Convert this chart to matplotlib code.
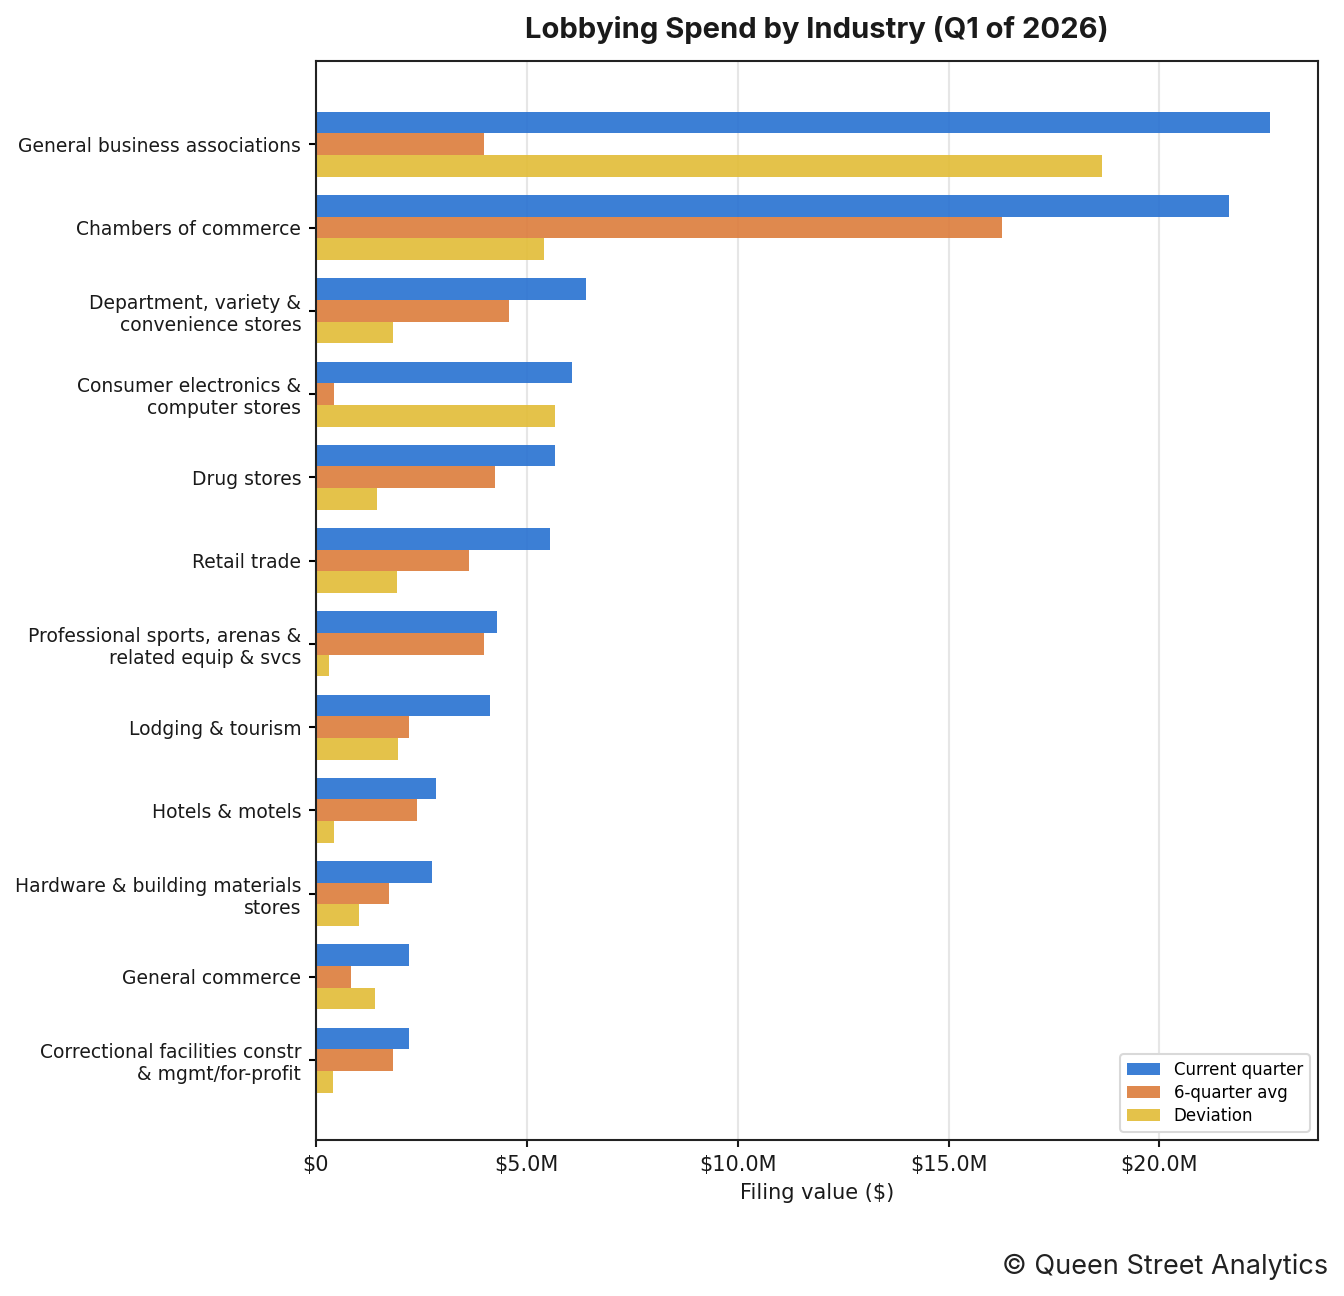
import matplotlib
matplotlib.use("Agg")
import matplotlib.pyplot as plt
import numpy as np
from matplotlib.ticker import FuncFormatter

# values (in $M)
industries = [
    "General business associations",
    "Chambers of commerce",
    "Department, variety &\nconvenience stores",
    "Consumer electronics &\ncomputer stores",
    "Drug stores",
    "Retail trade",
    "Professional sports, arenas &\nrelated equip & svcs",
    "Lodging & tourism",
    "Hotels & motels",
    "Hardware & building materials\nstores",
    "General commerce",
    "Correctional facilities constr\n& mgmt/for-profit",
]
current_q = [22.63, 21.66, 6.41, 6.08, 5.68, 5.54, 4.29, 4.12, 2.84, 2.75, 2.22, 2.22]
avg_6q = [3.98, 16.26, 4.59, 0.43, 4.24, 3.62, 3.98, 2.20, 2.41, 1.73, 0.83, 1.82]
deviation = [18.65, 5.42, 1.82, 5.66, 1.44, 1.92, 0.31, 1.94, 0.43, 1.02, 1.40, 0.40]

series = [
    ("Current quarter", current_q, "#2771D1"),
    ("6-quarter avg", avg_6q, "#DC7C3B"),
    ("Deviation", deviation, "#E2BC36"),
]

fig = plt.figure(figsize=(8.96, 8.64), dpi=150)
ax = fig.add_axes([0.235, 0.1204, 0.7457, 0.8325])

y = np.arange(len(industries))
h = 0.26
for i, (name, vals, color) in enumerate(series):
    ax.barh(y + (i - 1) * h, np.array(vals) * 1e6, height=h, color=color,
            alpha=0.9, label=name, zorder=2)

ax.set_yticks(y)
ax.set_yticklabels(industries, fontsize=9, color="#1a1a1a")
ax.set_ylim(len(industries) - 0.04, -1.0)
ax.set_xlim(0, max(current_q) * 1e6 * 1.05)
ax.xaxis.set_major_formatter(
    FuncFormatter(lambda v, _: "$0" if v == 0 else f"${v / 1e6:.1f}M"))
ax.tick_params(axis="x", labelsize=10, colors="#1a1a1a")
ax.tick_params(axis="both", width=1.0, length=3.5)
ax.set_xlabel("Filing value ($)", fontsize=10, color="#1a1a1a")
ax.grid(axis="x", color="#e6e6e6", linewidth=1.0, zorder=0)
ax.set_axisbelow(True)
for sp in ax.spines.values():
    sp.set_color("#222222")
    sp.set_linewidth(1.0)

ax.legend(loc="lower right", fontsize=8, framealpha=1, edgecolor="#d9d9d9",
          borderpad=0.4, labelspacing=0.3, handlelength=2.0)

ax.set_title("Lobbying Spend by Industry (Q1 of 2026)", fontsize=14,
             fontweight="bold", family="Inter", color="#1a1a1a", pad=11)
fig.text(0.988, 0.012, "\u00a9 Queen Street Analytics", ha="right", va="bottom",
         fontsize=13, family="Inter", color="#222222")

fig.savefig("out.png", dpi=150)
